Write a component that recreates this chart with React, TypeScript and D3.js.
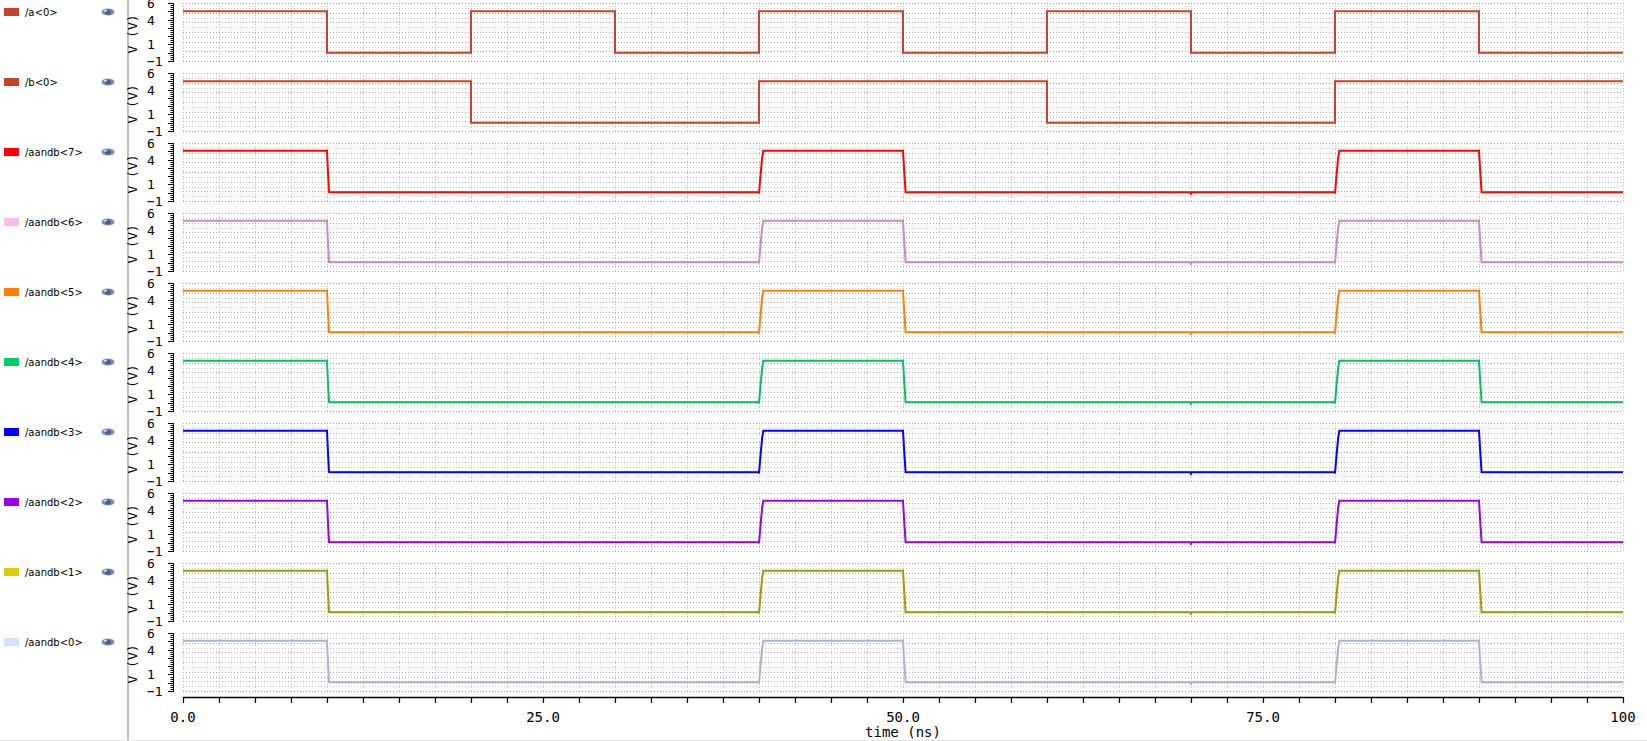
import React from "react";
import * as d3 from "d3";

// ---- data ----
const signalNames = [
  "/a<0>", "/b<0>", "/aandb<7>", "/aandb<6>", "/aandb<5>",
  "/aandb<4>", "/aandb<3>", "/aandb<2>", "/aandb<1>", "/aandb<0>",
];
const legendColors = [
  "#c4432b", "#c4432b", "#ff0000", "#ffbbee", "#ff8000",
  "#00cc66", "#0000ff", "#9900ee", "#ddcc00", "#d4e2fb",
];
const lineColors = [
  "#c4432b", "#c4432b", "#ff0000", "#c88ac0", "#ff8000",
  "#00c060", "#0000ff", "#9900dd", "#a09b00", "#a8b3cc",
];
// input waveforms: [time ns, volts], step after
const a0Wave: [number, number][] = [
  [0, 5], [10, 0], [20, 5], [30, 0], [40, 5], [50, 0], [60, 5], [70, 0], [80, 5], [90, 0], [100, 0],
];
const b0Wave: [number, number][] = [
  [0, 5], [20, 0], [40, 5], [60, 0], [80, 5], [100, 5],
];
// AND output waveform (same on every bit): [time ns, volts], linear
const andWave: [number, number][] = [
  [0, 5.05], [10.0, 5.05], [10.06, 2.7], [10.14, 0.08], [10.2, 0.05],
  [39.97, 0.05], [40.0, -0.08], [40.1, 2.0], [40.22, 4.2], [40.3, 5.05],
  [50.0, 5.05], [50.08, 2.7], [50.18, 0.05],
  [69.96, 0.05], [70.0, -0.12], [70.05, 0.05],
  [79.97, 0.05], [80.0, -0.08], [80.1, 2.0], [80.22, 4.2], [80.3, 5.05],
  [90.0, 5.05], [90.08, 2.7], [90.18, 0.05], [100, 0.05],
];
const waves = [a0Wave, b0Wave, andWave, andWave, andWave, andWave, andWave, andWave, andWave, andWave];
const stepped = [true, true, false, false, false, false, false, false, false, false];
const yTickValues = [6, 4, 1, -1];
const xLabelValues = [0, 25, 50, 75, 100];
const xLabelText = ["0.0", "25.0", "50.0", "75.0", "100"];

const W = 1647, H = 741;
const PANEL_STEP = 70, PANEL_TOP = 3, PANEL_H = 58;
const x = d3.scaleLinear().domain([0, 100]).range([183, 1623]);
const MONO = "'DejaVu Sans Mono', monospace";

function Eye({ cx, cy }: { cx: number; cy: number }) {
  return (
    <g>
      <ellipse cx={cx} cy={cy} rx={6.5} ry={3.6} fill="#7d8fb5" />
      <ellipse cx={cx} cy={cy} rx={3} ry={2.6} fill="#4d5f88" />
      <ellipse cx={cx - 2.5} cy={cy - 1.3} rx={1.6} ry={0.9} fill="#dde4f2" />
    </g>
  );
}

function Panel({ i }: { i: number }) {
  const top = PANEL_TOP + PANEL_STEP * i;
  const y = d3.scaleLinear().domain([-1, 6]).range([top + PANEL_H, top]);
  const gridRows = d3.range(13).map((k) => top + (k * PANEL_H) / 12);
  const gridCols = d3.range(0, 100.01, 2.5);
  const combTicks = d3.range(-1, 6.001, 0.25);
  const line = d3
    .line<[number, number]>()
    .x((d) => x(d[0]))
    .y((d) => y(d[1]))
    .curve(stepped[i] ? d3.curveStepAfter : d3.curveLinear);
  return (
    <g>
      {gridCols.map((t, k) => (
        <line key={"c" + k} x1={x(t) + 0.5} x2={x(t) + 0.5} y1={top} y2={top + PANEL_H}
          stroke="#c4c4c4" strokeWidth={1} strokeDasharray="1 2" />
      ))}
      {gridRows.map((gy, k) => (
        <line key={"r" + k} x1={x(0)} x2={x(100)} y1={Math.round(gy) + 0.5} y2={Math.round(gy) + 0.5}
          stroke={k % 2 === 0 ? "#a8a8a8" : "#c8c8c8"} strokeWidth={1} strokeDasharray="1 2" />
      ))}
      {/* y comb axis */}
      <line x1={173.5} x2={173.5} y1={y(6)} y2={y(-1)} stroke="#000" strokeWidth={1} />
      {combTicks.map((v, k) => (
        <line key={"t" + k} x1={Math.abs(v - Math.round(v)) < 1e-6 ? 168 : 170.5} x2={174}
          y1={Math.round(y(v)) + 0.5} y2={Math.round(y(v)) + 0.5} stroke="#000" strokeWidth={1} />
      ))}
      {yTickValues.map((v) => (
        <text key={"l" + v} x={147} y={y(v)} dy="0.38em" fontFamily={MONO} fontSize={13} fill="#000">
          {v < 0 ? "\u2212" + Math.abs(v) : String(v)}
        </text>
      ))}
      <text transform={`translate(137,${top + PANEL_H / 2 + 2}) rotate(-90)`} textAnchor="middle"
        fontFamily={MONO} fontSize={13} fill="#000">
        V (V)
      </text>
      <path d={line(waves[i]) || ""} fill="none" stroke={lineColors[i]} strokeWidth={2} />
      {/* legend */}
      <rect x={4} y={8 + PANEL_STEP * i} width={15} height={8} fill={legendColors[i]} />
      <text x={25} y={12 + PANEL_STEP * i} dy="0.35em" fontFamily="'DejaVu Sans', sans-serif" fontSize={10} fill="#000">
        {signalNames[i]}
      </text>
      <Eye cx={108} cy={12 + PANEL_STEP * i} />
    </g>
  );
}

export default function App() {
  const ticks = d3.range(0, 100.01, 2.5);
  return (
    <svg width={W} height={H} style={{ position: "absolute", left: 0, top: 0, display: "block", background: "#fff" }}>
      <rect x={0} y={0} width={W} height={H} fill="#fff" />
      <rect x={127} y={0} width={2} height={H} fill="#c0c0c0" />
      {signalNames.map((_, i) => (
        <Panel key={i} i={i} />
      ))}
      {/* x axis */}
      <line x1={x(0)} x2={x(100)} y1={697.5} y2={697.5} stroke="#000" strokeWidth={1.5} />
      {ticks.map((t, k) => (
        <line key={k} x1={Math.round(x(t)) + 0.5} x2={Math.round(x(t)) + 0.5} y1={697} y2={703}
          stroke="#000" strokeWidth={1.2} />
      ))}
      {xLabelValues.map((t, k) => (
        <text key={"xl" + k} x={x(t)} y={717} dy="0.35em" textAnchor="middle" fontFamily={MONO} fontSize={14} fill="#000">
          {xLabelText[k]}
        </text>
      ))}
      <text x={x(50)} y={732} dy="0.35em" textAnchor="middle" fontFamily={MONO} fontSize={14} fill="#000">
        time (ns)
      </text>
      <line x1={0} x2={W} y1={740.5} y2={740.5} stroke="#e4e4e4" strokeWidth={1} />
    </svg>
  );
}
